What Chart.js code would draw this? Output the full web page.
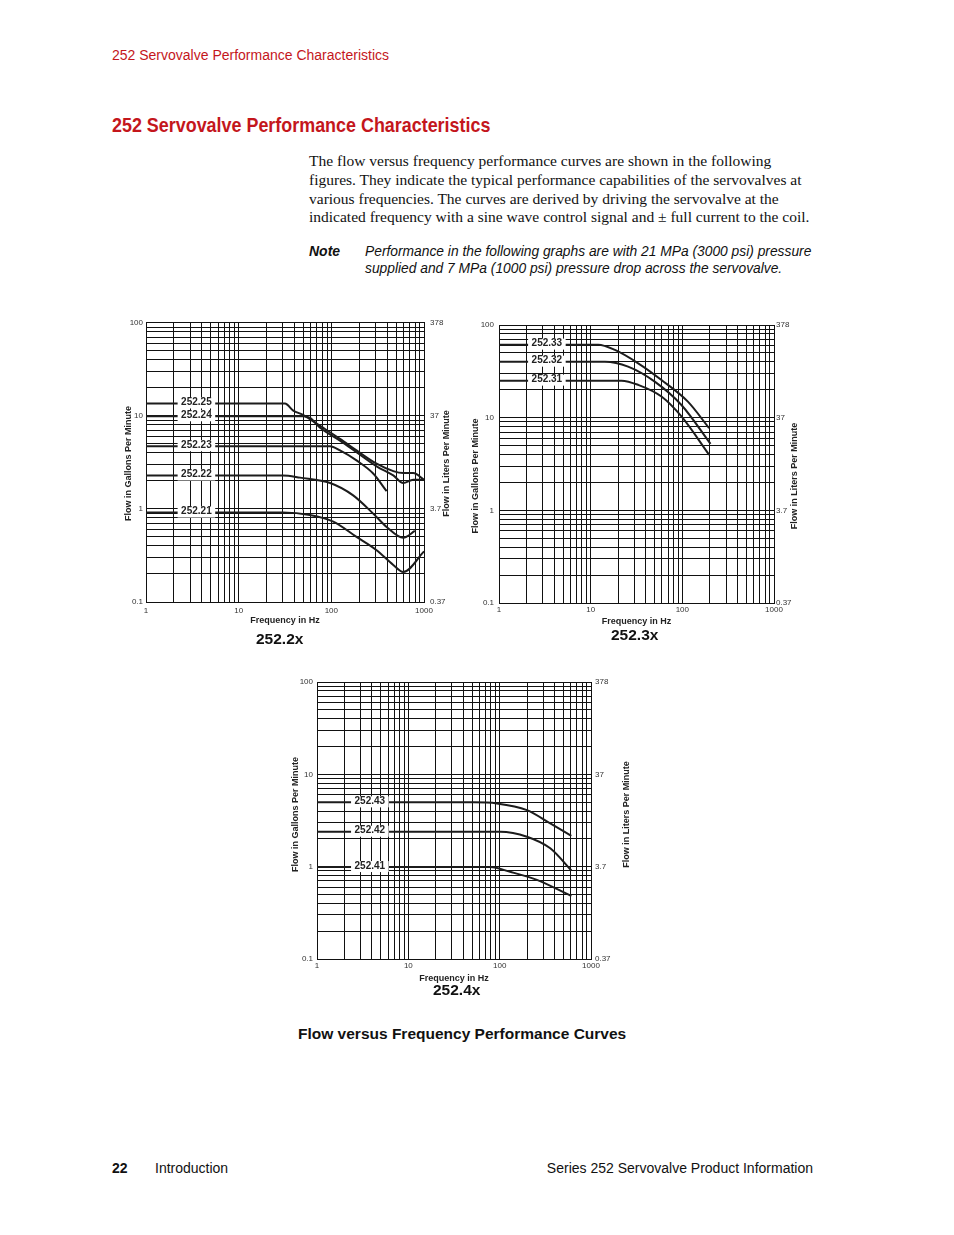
<!DOCTYPE html>
<html>
<head>
<meta charset="utf-8">
<script src="https://cdn.jsdelivr.net/npm/chart.js@4.4.1/dist/chart.umd.min.js"></script>
<style>
    body { margin: 0; background: #fff; width: 954px; height: 1235px; position: relative; overflow: hidden;
           font-family: "Liberation Sans", Arial, sans-serif; color: #222; }
    .abs { position: absolute; white-space: nowrap; }
    canvas { position: absolute; }
    .red { color: #c4161c; }
    .num { font: bold 15.5px/18px "Liberation Sans", Arial, sans-serif; color: #111; }
</style>
</head>
<body>

<div class="abs red" style="left:112px;top:47px;font-size:14px;line-height:16px;">252 Servovalve Performance Characteristics</div>
<div class="abs red" style="left:112px;top:112px;font:bold 21px/25px 'Liberation Sans Narrow','Arial Narrow','Liberation Sans',sans-serif;transform:scaleX(0.853);transform-origin:0 0;">252 Servovalve Performance Characteristics</div>

<div class="abs" style="left:309px;top:152px;font:15.5px/18.8px 'Liberation Serif','Times New Roman',serif;color:#111;">
The flow versus frequency performance curves are shown in the following<br>
figures. They indicate the typical performance capabilities of the servovalves at<br>
various frequencies. The curves are derived by driving the servovalve at the<br>
indicated frequency with a sine wave control signal and &plusmn; full current to the coil.
</div>
<div class="abs" style="left:309px;top:243px;font:bold italic 14px/17px 'Liberation Sans',Arial,sans-serif;color:#111;">Note</div>
<div class="abs" style="left:365px;top:243px;font:italic 13.8px/17px 'Liberation Sans',Arial,sans-serif;color:#111;">
Performance in the following graphs are with 21 MPa (3000 psi) pressure<br>
supplied and 7 MPa (1000 psi) pressure drop across the servovalve.
</div>

<canvas id="chart2x" width="350" height="320" style="left:110px;top:312px;"></canvas>
<canvas id="chart3x" width="350" height="315" style="left:462px;top:315px;"></canvas>
<canvas id="chart4x" width="355" height="318" style="left:285px;top:672px;"></canvas>

<div class="abs num" style="left:256px;top:630px;">252.2x</div>
<div class="abs num" style="left:611px;top:626px;">252.3x</div>
<div class="abs num" style="left:433px;top:981px;">252.4x</div>

<div class="abs" style="left:298px;top:1025px;font:bold 15.5px/18px 'Liberation Sans',Arial,sans-serif;color:#111;">Flow versus Frequency Performance Curves</div>

<div class="abs" style="left:112px;top:1160px;font:bold 14px/17px 'Liberation Sans',Arial,sans-serif;color:#111;">22</div>
<div class="abs" style="left:155px;top:1160px;font:14px/17px 'Liberation Sans',Arial,sans-serif;color:#111;">Introduction</div>
<div class="abs" style="right:141px;top:1160px;font:14px/17px 'Liberation Sans',Arial,sans-serif;color:#111;">Series 252 Servovalve Product Information</div>

<script>
// axis labels
const gridSteps = [1, 2, 3, 4, 5, 6, 7, 8, 9];
const freqDecades = [1, 10, 100, 1000];
const freqLabels = ['1', '10', '100', '1000'];
const gpmDecades = [0.1, 1, 10, 100];
const gpmLabels = ['0.1', '1', '10', '100'];
const lpmLabels = ['0.37', '3.7', '37', '378'];

// 252.2x
const names2x = ['252.21', '252.22', '252.23', '252.24', '252.25'];
const hz22521 = [1, 30, 58.6, 105, 187, 308, 466, 597, 1000];
const gpm22521 = [0.915, 0.915, 0.86, 0.73, 0.5, 0.36, 0.25, 0.21, 0.35];
const hz22522 = [1, 30, 46, 97, 172, 283, 395, 597, 797];
const gpm22522 = [2.29, 2.29, 2.17, 1.9, 1.4, 0.89, 0.64, 0.49, 0.58];
const hz22523 = [1, 97, 124, 187, 283, 395];
const gpm22523 = [4.72, 4.72, 4.25, 3.32, 2.4, 1.55];
const hz22524 = [1, 50, 59, 75, 124, 187, 308, 466, 597, 765, 1000];
const gpm22524 = [9.9, 9.9, 9.5, 7.5, 5.43, 4.07, 2.87, 2.29, 1.9, 2.06, 2.06];
const hz22525 = [1, 31.6, 38.8, 50, 75, 124, 187, 308, 466, 597, 765, 1000];
const gpm22525 = [13.6, 13.6, 11.4, 10.2, 7.85, 5.66, 4.25, 3.06, 2.55, 2.43, 2.43, 2.06];

// 252.3x
const names3x = ['252.31', '252.32', '252.33'];
const hz22531 = [1, 21.7, 33, 59.2, 97.8, 196];
const gpm22531 = [25.1, 25.1, 22.6, 16.9, 10.3, 3.97];
const hz22532 = [1, 14.3, 25.6, 50, 97.8, 203];
const gpm22532 = [40.2, 40.2, 35.6, 24.5, 13.7, 5.22];
const hz22533 = [1, 12.1, 18.4, 33, 59.2, 115, 196];
const gpm22533 = [61.4, 61.4, 53.8, 38.6, 25.5, 14.9, 7.7];

// 252.4x
const names4x = ['252.41', '252.42', '252.43'];
const hz22541 = [1, 78.7, 130, 256, 609];
const gpm22541 = [0.99, 0.99, 0.88, 0.72, 0.48];
const hz22542 = [1, 101, 199, 358, 609];
const gpm22542 = [2.39, 2.39, 2.11, 1.58, 0.91];
const hz22543 = [1, 51.6, 93, 199, 358, 609];
const gpm22543 = [4.97, 4.97, 4.84, 4.1, 2.94, 2.16];

const SANS = '"Liberation Sans", Arial, sans-serif';

function logGrid(decades) {
    const out = [];
    decades.slice(0, -1).forEach(d => gridSteps.forEach(s => out.push(d * s)));
    out.push(decades[decades.length - 1]);
    return out;
}

function labelFor(v, decades, labels) {
    const i = decades.findIndex(d => Math.abs(Math.log10(v) - Math.log10(d)) < 1e-6);
    return i >= 0 ? labels[i] : '';
}

function toPoints(hz, gpm) {
    return hz.map((h, i) => ({ x: h, y: gpm[i] }));
}

// 곡선 이름 라벨 + 세로 축 제목
const chartText = {
    id: 'chartText',
    afterDatasetsDraw(chart, args, opts) {
        const { ctx, chartArea, scales: { x, y } } = chart;
        ctx.save();
        ctx.font = 'bold 10px ' + SANS;
        ctx.textAlign = 'center';
        ctx.textBaseline = 'middle';
        chart.data.datasets.forEach(ds => {
            const px = x.getPixelForValue(opts.labelHz);
            const py = y.getPixelForValue(ds.data[0].y);
            const w = ctx.measureText(ds.label).width + 7;
            ctx.fillStyle = '#fff';
            ctx.fillRect(px - w / 2, py - 6, w, 11);
            ctx.fillStyle = '#222';
            ctx.fillText(ds.label, px, py - 1);
        });

        ctx.font = 'bold 9px ' + SANS;
        const cy = (chartArea.top + chartArea.bottom) / 2 + opts.titleDy;
        [[opts.leftTitleX, 'Flow in Gallons Per Minute'], [opts.rightTitleX, 'Flow in Liters Per Minute']].forEach(([tx, text]) => {
            ctx.save();
            ctx.translate(tx, cy);
            ctx.rotate(-Math.PI / 2);
            ctx.fillText(text, 0, 0);
            ctx.restore();
        });
        ctx.restore();
    }
};

function makeChart(id, names, hzList, gpmList, spec) {
    const datasets = names.map((n, i) => ({
        label: n,
        data: toPoints(hzList[i], gpmList[i]),
        borderColor: '#1c1c1c',
        borderWidth: 2,
        pointRadius: 0,
        fill: false,
        cubicInterpolationMode: 'monotone'
    }));

    const tickFont = { size: 8, family: SANS };
    return new Chart(document.getElementById(id), {
        type: 'line',
        data: { datasets },
        plugins: [chartText],
        options: {
            responsive: false,
            animation: false,
            devicePixelRatio: 1,
            layout: { padding: { top: spec.pad.t, left: 0, right: 0, bottom: 0 } },
            plugins: {
                legend: { display: false },
                tooltip: { enabled: false },
                chartText: { labelHz: spec.labelHz, leftTitleX: spec.leftTitleX, rightTitleX: spec.rightTitleX, titleDy: spec.titleDy }
            },
            scales: {
                x: {
                    type: 'logarithmic', min: 1, max: 1000, position: 'bottom',
                    afterBuildTicks: s => { s.ticks = logGrid(freqDecades).map(v => ({ value: v })); },
                    afterFit: s => { s.height = spec.pad.b; },
                    ticks: { autoSkip: false, maxRotation: 0, padding: spec.xTickPad, color: '#333', font: tickFont,
                             callback: v => labelFor(v, freqDecades, freqLabels) },
                    grid: { color: '#111', lineWidth: 1, drawTicks: false },
                    border: { color: '#111', width: 1 },
                    title: { display: true, text: 'Frequency in Hz', color: '#222',
                             font: { size: 9, weight: 'bold', family: SANS }, padding: { top: 0, bottom: spec.xTitlePad } }
                },
                y: {
                    type: 'logarithmic', min: 0.1, max: 100, position: 'left',
                    afterBuildTicks: s => { s.ticks = logGrid(gpmDecades).map(v => ({ value: v })); },
                    afterFit: s => { s.width = spec.pad.l; },
                    ticks: { autoSkip: false, padding: spec.yTickPad, color: '#333', font: tickFont,
                             callback: v => labelFor(v, gpmDecades, gpmLabels) },
                    grid: { color: '#111', lineWidth: 1, drawTicks: false },
                    border: { color: '#111', width: 1 }
                },
                yR: {
                    type: 'logarithmic', min: 0.1, max: 100, position: 'right',
                    afterBuildTicks: s => { s.ticks = gpmDecades.map(v => ({ value: v })); },
                    afterFit: s => { s.width = spec.pad.r; },
                    ticks: { autoSkip: false, padding: spec.rTickPad, color: '#333', font: tickFont,
                             callback: v => labelFor(v, gpmDecades, lpmLabels) },
                    grid: { drawOnChartArea: false, drawTicks: false },
                    border: { color: '#111', width: 1 }
                }
            }
        }
    });
}

makeChart('chart2x', names2x,
    [hz22521, hz22522, hz22523, hz22524, hz22525],
    [gpm22521, gpm22522, gpm22523, gpm22524, gpm22525],
    { pad: { l: 36, t: 10, r: 36, b: 30 }, labelHz: 3.5, xTickPad: 4, yTickPad: 3, rTickPad: 6,
      xTitlePad: 5.6, leftTitleX: 19, rightTitleX: 337, titleDy: 1 });

makeChart('chart3x', names3x,
    [hz22531, hz22532, hz22533],
    [gpm22531, gpm22532, gpm22533],
    { pad: { l: 37, t: 10, r: 38, b: 27 }, labelHz: 3.33, xTickPad: 2, yTickPad: 5, rTickPad: 2,
      xTitlePad: 2.6, leftTitleX: 14, rightTitleX: 333, titleDy: 12 });

makeChart('chart4x', names4x,
    [hz22541, hz22542, hz22543],
    [gpm22541, gpm22542, gpm22543],
    { pad: { l: 32, t: 10, r: 49, b: 31 }, labelHz: 3.79, xTickPad: 2, yTickPad: 4, rTickPad: 4,
      xTitlePad: 5.6, leftTitleX: 11, rightTitleX: 342, titleDy: -6 });
</script>
</body>
</html>
